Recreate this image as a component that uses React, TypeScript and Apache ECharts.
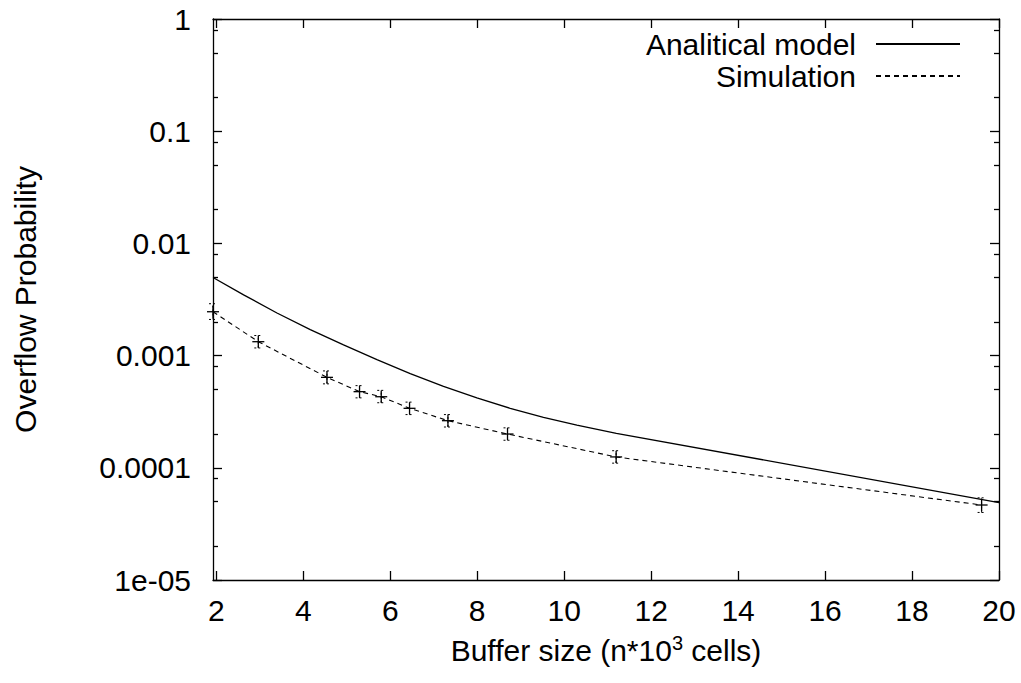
import React, { useEffect, useRef } from "react";
import * as echarts from "echarts";

// ---- data ----
const simX = [1.924, 2.966, 4.545, 5.294, 5.793, 6.444, 7.327, 8.697, 11.195, 19.6];
const simY = [0.00246, 0.00133, 0.00064, 0.000477, 0.00043, 0.000339, 0.000263, 0.0002, 0.000125, 0.0000466];
const simLow = [0.0021, 0.00117, 0.00056, 0.00042, 0.00038, 0.000298, 0.000231, 0.000176, 0.00011, 0.00004];
const simHigh = [0.0029, 0.00151, 0.00073, 0.00054, 0.00049, 0.000385, 0.000298, 0.000227, 0.000142, 0.000054];

const anaX = [1.924, 2.628, 3.395, 4.161, 4.926, 5.694, 6.46, 7.225, 7.993, 8.759, 9.524, 10.292, 11.2, 20];
const anaY = [0.004966, 0.003475, 0.002399, 0.001702, 0.001245, 0.00092, 0.000692, 0.000531, 0.000419, 0.000339, 0.000282, 0.00024, 0.000203, 0.000049];

const xTicks = [2, 4, 6, 8, 10, 12, 14, 16, 18, 20];
const yTicks = [0.00001, 0.0001, 0.001, 0.01, 0.1, 1];
const yTickLabels = ["1e-05", "0.0001", "0.001", "0.01", "0.1", "1"];
const yMinorTicks = [
  0.00002, 0.00005, 0.00008,
  0.0002, 0.0005, 0.0008,
  0.002, 0.005, 0.008,
  0.02, 0.05, 0.08,
  0.2, 0.5, 0.8,
];

const seriesNames = ["Analitical model", "Simulation"];

const FONT = "'Liberation Sans', Arial, Helvetica, sans-serif";
const INK = "#000";
const FS = 30;

export default function App() {
  const ref = useRef<HTMLDivElement>(null);

  useEffect(() => {
    if (!ref.current) return;
    const chart = echarts.init(ref.current, undefined, { renderer: "svg" });

    const xRange = { min: simX[0], max: 20 };
    const yRange = { min: yTicks[0], max: yTicks[yTicks.length - 1], logBase: 10 };

    const yLabelFmt = (v: number) => {
      const e = Math.round(Math.log10(v));
      const idx = e + 5;
      return yTickLabels[idx] ?? String(v);
    };

    const option: any = {
      animation: false,
      backgroundColor: "#fff",
      textStyle: { fontFamily: FONT, color: INK },
      grid: { left: 213, right: 22, top: 19, bottom: 103, containLabel: false },
      legend: {
        data: seriesNames,
        orient: "vertical",
        align: "right",
        right: 55,
        top: 24,
        itemWidth: 84,
        itemHeight: 14,
        itemGap: 2,
        itemStyle: { color: "rgba(0,0,0,0)", borderColor: "rgba(0,0,0,0)", borderWidth: 0 },
        textStyle: { fontFamily: FONT, fontSize: FS, color: INK, lineHeight: 30, padding: [0, 15, 0, 0] },
        selectedMode: false,
      },
      xAxis: [
        {
          type: "value",
          position: "bottom",
          ...xRange,
          axisLine: { show: true, onZero: false, lineStyle: { color: INK, width: 1.3 } },
          axisTick: { show: true, inside: true, length: 9, customValues: xTicks, lineStyle: { color: INK, width: 1.3 } },
          axisLabel: {
            show: true,
            customValues: xTicks,
            fontFamily: FONT,
            fontSize: FS,
            color: INK,
            margin: 15,
          },
          splitLine: { show: false },
          name: "Buffer size (n*10{sup|3} cells)",
          nameLocation: "middle",
          nameGap: 53,
          nameTextStyle: {
            fontFamily: FONT,
            fontSize: FS,
            color: INK,
            rich: {
              sup: { fontFamily: FONT, fontSize: 20, color: INK, verticalAlign: "top", padding: [0, 0, 14, 0] },
            },
          },
        },
        {
          type: "value",
          position: "top",
          ...xRange,
          axisLine: { show: true, onZero: false, lineStyle: { color: INK, width: 1.3 } },
          axisTick: { show: true, inside: true, length: 9, customValues: xTicks, lineStyle: { color: INK, width: 1.3 } },
          axisLabel: { show: false },
          splitLine: { show: false },
        },
      ],
      yAxis: [
        {
          type: "log",
          position: "left",
          ...yRange,
          axisLine: { show: true, onZero: false, lineStyle: { color: INK, width: 1.3 } },
          axisTick: { show: true, inside: true, length: 9, customValues: yTicks, lineStyle: { color: INK, width: 1.3 } },
          axisLabel: {
            show: true,
            customValues: yTicks,
            formatter: yLabelFmt,
            fontFamily: FONT,
            fontSize: FS,
            color: INK,
            margin: 22,
          },
          splitLine: { show: false },
          minorTick: { show: false },
          name: "Overflow Probability",
          nameLocation: "middle",
          nameRotate: 90,
          nameGap: 173,
          nameTextStyle: { fontFamily: FONT, fontSize: FS, color: INK },
        },
        {
          type: "log",
          position: "right",
          ...yRange,
          axisLine: { show: true, onZero: false, lineStyle: { color: INK, width: 1.3 } },
          axisTick: { show: true, inside: true, length: 9, customValues: yTicks, lineStyle: { color: INK, width: 1.3 } },
          axisLabel: { show: false },
          splitLine: { show: false },
        },
        {
          type: "log",
          position: "left",
          ...yRange,
          axisLine: { show: false },
          axisTick: { show: true, inside: true, length: 5, customValues: yMinorTicks, lineStyle: { color: INK, width: 1.3 } },
          axisLabel: { show: false },
          splitLine: { show: false },
        },
        {
          type: "log",
          position: "right",
          ...yRange,
          axisLine: { show: false },
          axisTick: { show: true, inside: true, length: 5, customValues: yMinorTicks, lineStyle: { color: INK, width: 1.3 } },
          axisLabel: { show: false },
          splitLine: { show: false },
        },
      ],
      series: [
        {
          name: seriesNames[0],
          type: "line",
          xAxisIndex: 0,
          yAxisIndex: 0,
          data: anaX.map((x, i) => [x, anaY[i]]),
          symbol: "none",
          lineStyle: { color: INK, width: 1.3, type: "solid" },
          itemStyle: { color: INK },
        },
        {
          name: seriesNames[1],
          type: "line",
          xAxisIndex: 0,
          yAxisIndex: 0,
          data: simX.map((x, i) => [x, simY[i]]),
          symbol: "none",
          lineStyle: { color: INK, width: 1.1, type: [5, 4] },
          itemStyle: { color: INK },
        },
        {
          name: "errors",
          type: "custom",
          xAxisIndex: 0,
          yAxisIndex: 0,
          data: simX.map((x, i) => [x, simY[i], simLow[i], simHigh[i]]),
          renderItem: (params: any, api: any) => {
            const x = api.value(0);
            const p = api.coord([x, api.value(1)]);
            const lo = api.coord([x, api.value(2)]);
            const hi = api.coord([x, api.value(3)]);
            const dashed = { stroke: INK, lineWidth: 1, lineDash: [2, 2], fill: null };
            const solid = { stroke: INK, lineWidth: 1.3, fill: null };
            return {
              type: "group",
              children: [
                { type: "line", shape: { x1: p[0], y1: lo[1], x2: p[0], y2: hi[1] }, style: dashed },
                { type: "line", shape: { x1: p[0] - 4, y1: lo[1], x2: p[0] + 4, y2: lo[1] }, style: dashed },
                { type: "line", shape: { x1: p[0] - 4, y1: hi[1], x2: p[0] + 4, y2: hi[1] }, style: dashed },
                { type: "line", shape: { x1: p[0] - 6, y1: p[1], x2: p[0] + 6, y2: p[1] }, style: solid },
                { type: "line", shape: { x1: p[0], y1: p[1] - 6, x2: p[0], y2: p[1] + 6 }, style: solid },
              ],
            };
          },
          silent: true,
          z: 3,
        },
      ],
    };

    chart.setOption(option);
    return () => chart.dispose();
  }, []);

  return (
    <div
      ref={ref}
      style={{ position: "absolute", left: 0, top: 0, width: 1021, height: 683, background: "#fff" }}
    />
  );
}
